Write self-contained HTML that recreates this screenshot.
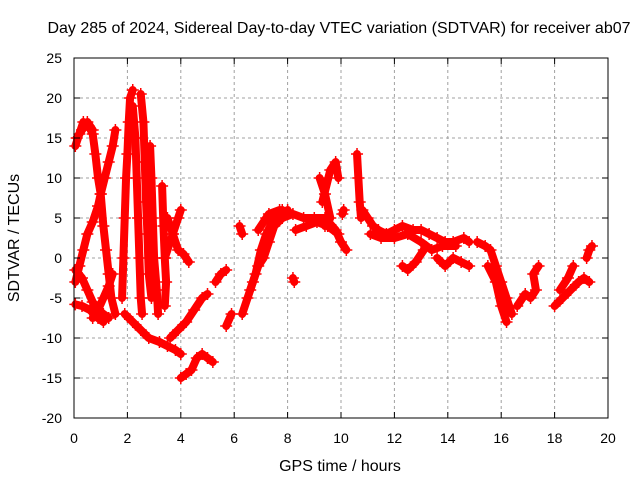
<!DOCTYPE html>
<html><head><meta charset="utf-8"><style>
body{margin:0;background:#fff;}
svg{display:block;font-family:"Liberation Sans",sans-serif;}
</style></head><body>
<svg id="chart" width="640" height="480" viewBox="0 0 640 480">
<text x="339" y="33" text-anchor="middle" font-size="16">Day 285 of 2024, Sidereal Day-to-day VTEC variation (SDTVAR) for receiver ab07</text>
<text x="340" y="471" text-anchor="middle" font-size="16">GPS time / hours</text>
<text transform="translate(19,238) rotate(-90)" text-anchor="middle" font-size="16">SDTVAR / TECUs</text>
<g id="grid"></g><g id="marks"></g><g id="axes"></g>
</svg>
<script>
const xTicks=[0,2,4,6,8,10,12,14,16,18,20];
const yTicks=[-20,-15,-10,-5,0,5,10,15,20,25];
const trace1=[[0.05,14],[0.2,15.5],[0.35,17],[0.55,16.5],[0.7,15.5],[0.8,13],[0.9,10],[1.0,8],[1.1,4],[1.2,1],[1.3,-2],[1.4,-5],[1.55,-7]];
const trace2=[[0.05,-1.5],[0.3,-2.5],[0.5,-4],[0.7,-5.5],[0.9,-6.5],[1.1,-7],[1.3,-7.5]];
const trace3=[[0.05,-5.8],[0.3,-6],[0.6,-6.5],[0.9,-7.5],[1.1,-8]];
const trace4=[[0.7,-7.5],[0.9,-6.5],[1.1,-5],[1.3,-3.5],[1.45,-2]];
const trace5=[[0.05,-3],[0.2,-1],[0.35,1],[0.5,3],[0.7,4.5],[0.9,6.5],[1.0,8],[1.15,10],[1.3,12],[1.45,14],[1.55,16]];
const trace6=[[1.8,-5],[1.85,0],[1.9,5],[1.95,10],[2.0,13],[2.05,17],[2.1,20],[2.2,21]];
const trace7=[[2.2,19],[2.3,15],[2.35,10],[2.4,5],[2.45,0],[2.5,-5],[2.55,-7]];
const trace8=[[2.5,20.5],[2.6,17],[2.65,12],[2.7,7],[2.75,3],[2.8,-2],[2.9,-5]];
const trace9=[[2.85,14],[2.9,10],[2.95,5],[3.0,0],[3.1,-4],[3.15,-7]];
const trace10=[[3.3,9],[3.35,4],[3.4,0],[3.45,-3],[3.4,-6]];
const trace11=[[1.9,-7],[2.2,-8],[2.5,-9],[2.8,-10],[3.2,-10.5],[3.5,-11],[3.8,-11.5],[4.0,-12]];
const trace12=[[3.6,-10],[3.9,-9],[4.2,-8],[4.5,-6.5],[4.8,-5],[5.0,-4.5]];
const trace13=[[4.0,-15],[4.2,-14.5],[4.4,-14],[4.6,-12.5],[4.8,-12],[5.0,-12.5],[5.2,-13]];
const trace14=[[3.4,0],[3.6,2],[3.7,3],[3.9,5],[4.0,6]];
const trace15=[[3.5,5],[3.7,3],[3.9,1],[4.1,0.5],[4.3,-0.5]];
const trace16=[[5.3,-3],[5.5,-2],[5.7,-1.5]];
const trace17=[[5.7,-8.5],[5.9,-7]];
const trace18=[[6.3,-7],[6.5,-5],[6.7,-3],[6.9,-1],[7.1,0],[7.3,2],[7.5,4],[7.8,5],[8.0,6]];
const trace19=[[6.6,-4],[6.8,-2],[7.0,1],[7.2,3],[7.5,5],[7.8,6]];
const trace20=[[7.2,5],[7.8,5],[8.2,5.5],[8.6,5],[9.0,5],[9.4,5],[9.8,3.5],[10.0,2],[10.2,1]];
const trace21=[[9.2,10],[9.4,8],[9.6,5],[9.4,4]];
const trace22=[[9.3,7],[9.6,11],[9.8,12],[9.9,10]];
const trace23=[[6.2,4],[6.3,3]];
const trace24=[[8.2,-2.5],[8.25,-3]];
const trace25=[[10.6,13],[10.65,10],[10.7,7],[10.75,5]];
const trace26=[[10.8,6],[11.0,5],[11.2,4],[11.4,3.5],[11.7,3],[12.0,3.5],[12.3,4],[12.7,3.5],[13.0,3.5],[13.3,3],[13.6,2.5],[13.9,2],[14.2,2],[14.6,2.5],[14.8,2]];
const trace27=[[12.3,-1],[12.5,-1.5],[12.8,-0.5],[13.1,1]];
const trace28=[[13.6,0],[13.9,-1],[14.2,0],[14.5,-0.5],[14.8,-1]];
const trace29=[[15.1,2],[15.4,1.5],[15.6,1],[15.8,-1],[16.0,-3],[16.2,-5],[16.3,-6],[16.4,-7]];
const trace30=[[15.5,-1],[15.8,-3],[16.0,-6],[16.2,-8]];
const trace31=[[16.6,-6],[16.9,-4.5],[17.1,-5],[17.3,-4],[17.2,-2],[17.4,-1]];
const trace32=[[18.0,-6],[18.3,-5],[18.6,-4],[18.9,-3],[19.1,-2.5],[19.3,-3]];
const trace33=[[18.2,-4],[18.5,-2.5],[18.7,-1]];
const trace34=[[19.2,0],[19.3,1],[19.4,1.5]];
const trace35=[[10.05,5.5],[10.1,6]];
const trace36=[[8.3,3.5],[8.7,4],[9.1,4.5],[9.5,4],[9.9,3]];
const trace37=[[11.1,3],[11.5,2.5],[12.0,2.5],[12.5,3],[13.0,2],[13.4,1],[13.8,1.5],[14.3,1.5]];
const trace38=[[6.9,3.5],[7.3,5.5],[7.7,6]];
const trace39=[[0.1,15],[0.3,16],[0.5,17],[0.7,16]];
const traces=[trace1,trace2,trace3,trace4,trace5,trace6,trace7,trace8,trace9,trace10,trace11,trace12,trace13,trace14,trace15,trace16,trace17,trace18,trace19,trace20,trace21,trace22,trace23,trace24,trace25,trace26,trace27,trace28,trace29,trace30,trace31,trace32,trace33,trace34,trace35,trace36,trace37,trace38,trace39];

const L=74,R=608,T=58,B=418;
const xS=t=>L+(t-0)/(20-0)*(R-L);
const yS=v=>B-(v-(-20))/(25-(-20))*(B-T);
const NS="http://www.w3.org/2000/svg";
function mk(tag,attrs,parent){const e=document.createElementNS(NS,tag);for(const k in attrs)e.setAttribute(k,attrs[k]);parent.appendChild(e);return e;}
const grid=document.getElementById('grid'),marks=document.getElementById('marks'),axes=document.getElementById('axes');
xTicks.forEach(t=>{
  const x=xS(t);
  if(t>0&&t<20){const g=mk('line',{x1:x,x2:x,y1:T,y2:B,stroke:'#a0a0a0','stroke-dasharray':'3,3'},grid);
  
  }
  mk('line',{x1:x,x2:x,y1:B,y2:B-6,stroke:'#000'},axes);
  mk('line',{x1:x,x2:x,y1:T,y2:T+6,stroke:'#000'},axes);
  const lb=mk('text',{x:x,y:B+25,'text-anchor':'middle','font-size':14},axes);lb.textContent=t;
  
  
});
yTicks.forEach(v=>{
  const y=yS(v);
  if(v>-20&&v<25){const g=mk('line',{x1:L,x2:R,y1:y,y2:y,stroke:'#a0a0a0','stroke-dasharray':'3,3'},grid);
  
  }
  mk('line',{x1:L,x2:L+6,y1:y,y2:y,stroke:'#000'},axes);
  mk('line',{x1:R,x2:R-6,y1:y,y2:y,stroke:'#000'},axes);
  const lb=mk('text',{x:L-12,y:y+5,'text-anchor':'end','font-size':14},axes);lb.textContent=v;
  
  
});
const box=mk('rect',{x:L,y:T,width:R-L,height:B-T,fill:'none',stroke:'#000'},axes);


traces.forEach(tr=>{
  const pl=mk('polyline',{points:tr.map(p=>xS(p[0])+','+yS(p[1])).join(' '),fill:'none',stroke:'#ff0000','stroke-width':8,'stroke-linejoin':'round','stroke-linecap':'round'},marks);
  
  
  tr.forEach(p=>{
    const x=xS(p[0]),y=yS(p[1]);
    const m=mk('path',{d:`M${x-6},${y}H${x+6}M${x},${y-6}V${y+6}`,stroke:'#ff0000','stroke-width':1.5},marks);
    
    
  });
});
</script>
</body></html>
